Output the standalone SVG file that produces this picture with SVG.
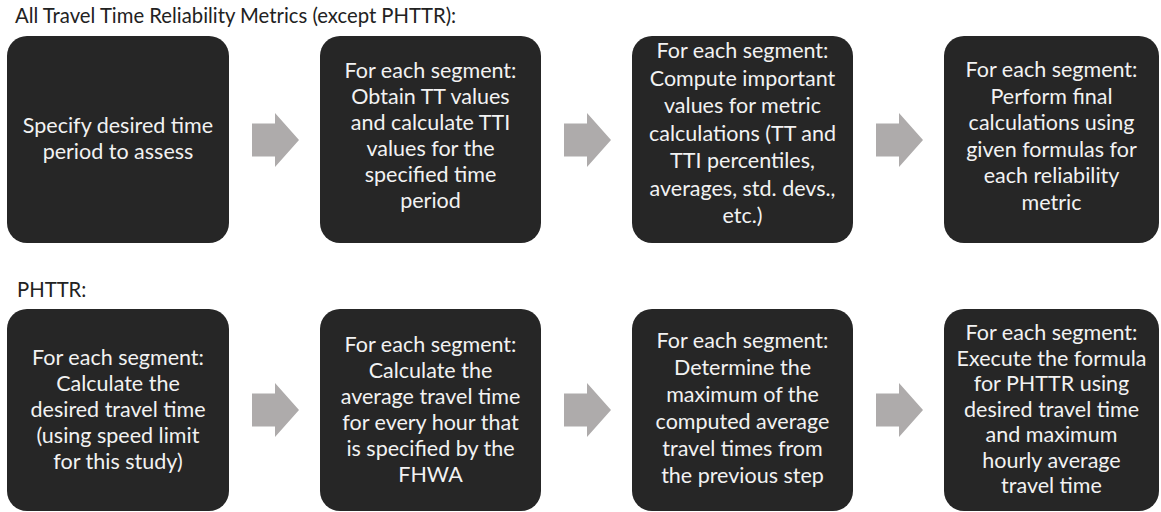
<svg xmlns="http://www.w3.org/2000/svg" width="1161" height="512" viewBox="0 0 1161 512">
  <style>
    .heading { font-family: Lato, "Liberation Sans", sans-serif; font-size: 20.3px; fill: #222222; }
    .box { fill: #262626; }
    .label { font-family: Lato, "Liberation Sans", sans-serif; font-size: 21.5px; fill: #f2f2f2; text-anchor: middle; }
    .step { fill: #aeabab; }
  </style>
  <defs>
    <path id="chevron" d="M0,-16.5 H23 V-27 L47,0 L23,27 V16.5 H0 Z"/>
  </defs>
  <rect width="1161" height="512" fill="#ffffff"/>

  <text class="heading" x="15" y="23">All Travel Time Reliability Metrics (except PHTTR):</text>
  <text class="heading" x="17" y="297">PHTTR:</text>

  <!-- top row: all metrics except PHTTR -->
  <g id="node-period">
    <rect class="box" x="7" y="36" width="222" height="207" rx="20"/>
    <text class="label"><tspan x="118" y="133">Specify desired time</tspan><tspan x="118" y="159">period to assess</tspan></text>
  </g>
  <g id="node-obtain">
    <rect class="box" x="320" y="36" width="221" height="207" rx="20"/>
    <text class="label"><tspan x="430.5" y="78">For each segment:</tspan><tspan x="430.5" y="104">Obtain TT values</tspan><tspan x="430.5" y="130">and calculate TTI</tspan><tspan x="430.5" y="156">values for the</tspan><tspan x="430.5" y="182">specified time</tspan><tspan x="430.5" y="208">period</tspan></text>
  </g>
  <g id="node-compute">
    <rect class="box" x="632" y="36" width="221" height="207" rx="20"/>
    <text class="label"><tspan x="742.5" y="58">For each segment:</tspan><tspan x="742.5" y="85.5">Compute important</tspan><tspan x="742.5" y="113">values for metric</tspan><tspan x="742.5" y="140.5">calculations (TT and</tspan><tspan x="742.5" y="168">TTI percentiles,</tspan><tspan x="742.5" y="195.5">averages, std. devs.,</tspan><tspan x="742.5" y="223">etc.)</tspan></text>
  </g>
  <g id="node-final">
    <rect class="box" x="944" y="36" width="215" height="207" rx="20"/>
    <text class="label"><tspan x="1051.5" y="77">For each segment:</tspan><tspan x="1051.5" y="103.5">Perform final</tspan><tspan x="1051.5" y="130">calculations using</tspan><tspan x="1051.5" y="156.5">given formulas for</tspan><tspan x="1051.5" y="183">each reliability</tspan><tspan x="1051.5" y="209.5">metric</tspan></text>
  </g>

  <!-- bottom row: PHTTR -->
  <g id="node-desired">
    <rect class="box" x="7" y="309" width="222" height="202" rx="20"/>
    <text class="label"><tspan x="118" y="365">For each segment:</tspan><tspan x="118" y="391">Calculate the</tspan><tspan x="118" y="417">desired travel time</tspan><tspan x="118" y="443">(using speed limit</tspan><tspan x="118" y="469">for this study)</tspan></text>
  </g>
  <g id="node-hourly">
    <rect class="box" x="320" y="309" width="221" height="202" rx="20"/>
    <text class="label"><tspan x="430.5" y="352">For each segment:</tspan><tspan x="430.5" y="378">Calculate the</tspan><tspan x="430.5" y="404">average travel time</tspan><tspan x="430.5" y="430">for every hour that</tspan><tspan x="430.5" y="456">is specified by the</tspan><tspan x="430.5" y="482">FHWA</tspan></text>
  </g>
  <g id="node-maximum">
    <rect class="box" x="632" y="309" width="221" height="202" rx="20"/>
    <text class="label"><tspan x="742.5" y="348">For each segment:</tspan><tspan x="742.5" y="375">Determine the</tspan><tspan x="742.5" y="402">maximum of the</tspan><tspan x="742.5" y="429">computed average</tspan><tspan x="742.5" y="456">travel times from</tspan><tspan x="742.5" y="483">the previous step</tspan></text>
  </g>
  <g id="node-formula">
    <rect class="box" x="944" y="309" width="215" height="202" rx="20"/>
    <text class="label"><tspan x="1051.5" y="340">For each segment:</tspan><tspan x="1051.5" y="365.5">Execute the formula</tspan><tspan x="1051.5" y="391">for PHTTR using</tspan><tspan x="1051.5" y="416.5">desired travel time</tspan><tspan x="1051.5" y="442">and maximum</tspan><tspan x="1051.5" y="467.5">hourly average</tspan><tspan x="1051.5" y="493">travel time</tspan></text>
  </g>

  <!-- block arrows between steps -->
  <g id="connectors">
    <use class="step" href="#chevron" x="252" y="140"/>
    <use class="step" href="#chevron" x="564" y="140"/>
    <use class="step" href="#chevron" x="876" y="140"/>
    <use class="step" href="#chevron" x="252" y="410"/>
    <use class="step" href="#chevron" x="564" y="410"/>
    <use class="step" href="#chevron" x="876" y="410"/>
  </g>
</svg>
